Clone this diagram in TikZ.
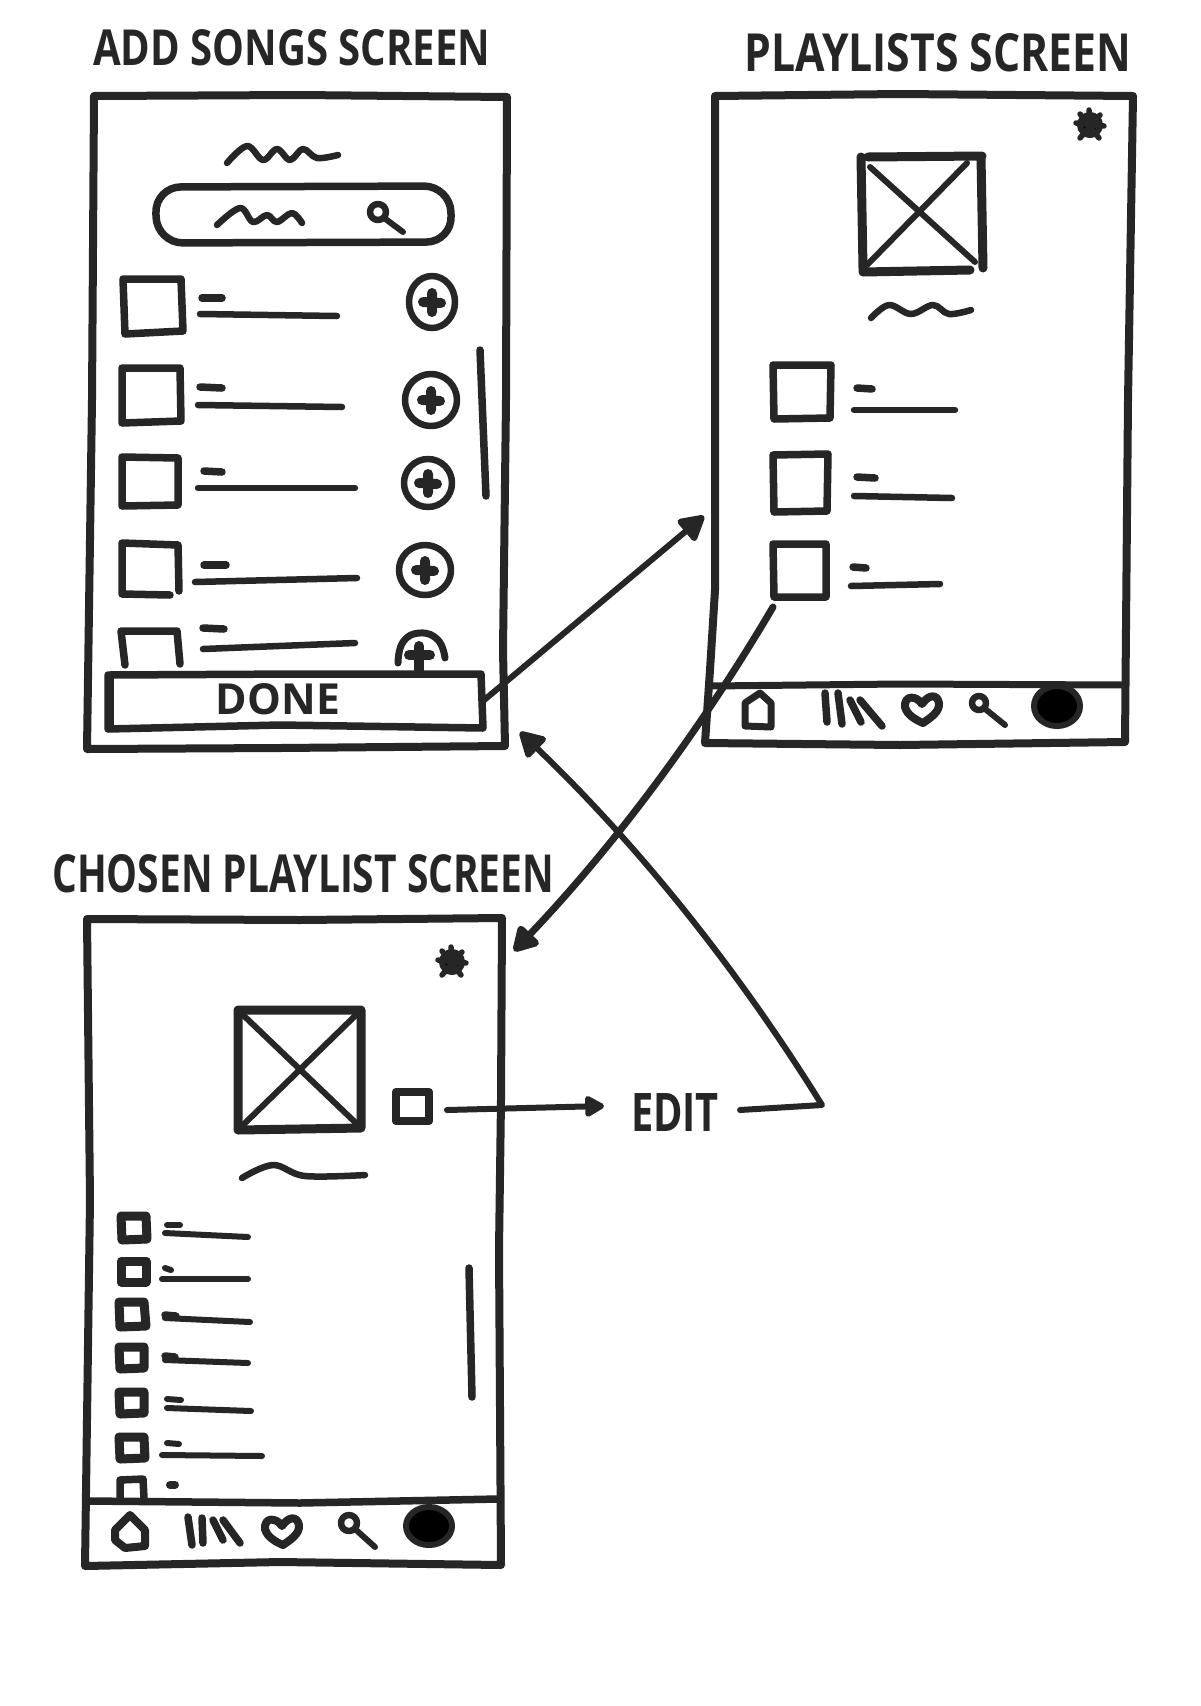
\documentclass[tikz,border=0pt]{standalone}
\usepackage{graphicx}
\usepackage{fontspec}
\setmainfont{Open Sans}
\usetikzlibrary{arrows.meta}
\definecolor{ink}{HTML}{262626}
\tikzset{
  ink/.style={draw=ink,line cap=round,line join=round,line width=6pt},
  frame/.style={ink,line width=8pt},
  box/.style={ink,line width=7.5pt},
  sbox/.style={ink,line width=9pt},
  thin/.style={ink,line width=6.5pt},
  dashmark/.style={ink,line width=7.5pt},
  bar/.style={ink,line width=7.5pt},
  conn/.style={ink,line width=6pt},
  label/.style={inner sep=0pt,text=ink,font=\bfseries},
  head/.style={-{Triangle[length=28pt,width=30pt,round]}},
  smallhead/.style={-{Triangle[length=22pt,width=23pt,round]}}
}
\newcommand{\pluscirc}[4]{% x y rx ry
  \begin{scope}[shift={(#1,#2)}]
    \draw[ink,line width=6.5pt] (0,0) circle[x radius=#3,y radius=#4];
    \draw[ink,line width=10pt] (-9,0) -- (9,1) (0,-9) -- (0,10);
  \end{scope}}
\newcommand{\starblob}[2]{%
  \begin{scope}[shift={(#1,#2)}]
    \fill[ink] (0,0) circle[radius=10];
    \draw[ink,line width=5.5pt] (-14,-2) -- (14,1) (-10,-11) -- (9,13) (10,-10) -- (-10,13) (-1,-15) -- (1,10);
  \end{scope}}
\newcommand{\heartshape}[2]{%
  \begin{scope}[shift={(#1,#2)}]
    \draw[ink,line width=8pt] (0,-4) .. controls (-6,-13) and (-18,-13) .. (-17,-1)
      .. controls (-15,7) and (-6,12) .. (1,15) .. controls (8,10) and (18,4) .. (17,-5)
      .. controls (15,-15) and (6,-13) .. cycle;
  \end{scope}}
\newcommand{\magnifier}[5]{% cx cy r hx hy
  \draw[ink,line width=6.5pt] (#1,#2) circle[radius=#3];
  \draw[ink,line width=6pt] (#1+#3*0.7,#2+#3*0.7) -- (#4,#5);}
\begin{document}
\begin{tikzpicture}[x=1pt,y=-1pt]
\useasboundingbox[fill=white] (0,0) rectangle (1200,1706);

% ---- titles
\node[label,anchor=south west] (titleA) at (93,66) {\resizebox{397pt}{36pt}{ADD SONGS SCREEN}};
\node[label,anchor=south west] (titleB) at (744,72) {\resizebox{387pt}{38pt}{PLAYLISTS SCREEN}};
\node[label,anchor=south west] (titleC) at (52,893) {\resizebox{502pt}{38pt}{CHOSEN PLAYLIST SCREEN}};

% ---- screen 1: add songs
\draw[frame] (94,96) -- (300,95) -- (507,97) -- (506,400) -- (503,650) -- (505,746) -- (280,748) -- (87,749) -- (92,400) -- cycle;
\draw[thin] plot[smooth,tension=.6] coordinates {(227,163) (247,146) (263,160) (277,149) (290,160) (303,149) (317,158) (338,155)};
\draw[box,rounded corners=26pt] (155,187) -- (450,186) -- (452,242) -- (157,243) -- cycle;
\draw[thin] plot[smooth,tension=.6] coordinates {(217,225) (240,208) (253,222) (267,215) (277,222) (292,213) (302,223)};
\magnifier{378}{212}{8}{403}{232}

\draw[box] (123,279) -- (181,279) -- (183,331) -- (125,334) -- cycle;
\draw[dashmark] (202,298) -- (222,298);
\draw[thin] (200,314) -- (337,316);
\pluscirc{432}{302}{23}{26}

\draw[box] (122,368) -- (180,368) -- (181,421) -- (122,423) -- cycle;
\draw[dashmark] (200,387) -- (222,388);
\draw[thin] (198,405) -- (342,407);
\pluscirc{431}{400}{26}{26}

\draw[box] (122,457) -- (178,458) -- (178,505) -- (122,506) -- cycle;
\draw[dashmark] (204,471) -- (222,472);
\draw[thin] (198,488) -- (355,488);
\pluscirc{428}{483}{24}{24}

\draw[box] (179,591) -- (178,545) -- (122,543) -- (122,594) -- (170,595);
\draw[dashmark] (204,565) -- (226,565);
\draw[thin] (195,582) -- (357,578);
\pluscirc{425}{570}{26}{25}

\draw[box] (125,665) -- (121,631) -- (177,631) -- (180,664);
\draw[dashmark] (203,628) -- (224,629);
\draw[thin] (203,649) -- (355,643);
\draw[ink,line width=7pt] plot[smooth,tension=.8] coordinates {(398,663) (403,642) (420,633) (438,640) (445,658)};
\draw[ink,line width=10pt] (409,655) -- (430,655) (419,646) -- (419,670);
\draw[bar] (480,350) -- (486,496);

\draw[box,line width=7.5pt] (108,675) -- (300,674) -- (481,674) -- (483,728) -- (280,725) -- (108,729) -- cycle;
\draw[ink,line width=5pt] (111,677) -- (111,727);
\node[label] (done) at (278,699) {\resizebox{124pt}{31pt}{DONE}};

% ---- screen 2: playlists
\draw[frame] (715,96) -- (900,94) -- (1133,96) -- (1128,400) -- (1125,742) -- (900,745) -- (705,743) -- (710,670) -- (715,590) -- cycle;
\draw[frame,line width=7pt] (710,686) -- (900,684) -- (1124,685);
\starblob{1090}{125}
\draw[ink,line width=9pt] (861,157) -- (863,268) -- (863,272) -- (970,270) (868,157) -- (982,156) (981,156) -- (983,268);
\draw[ink,line width=6pt] (870,167) -- (975,262) (967,163) -- (867,265);
\draw[thin] plot[smooth,tension=.6] coordinates {(871,318) (889,305) (911,314) (933,305) (949,314) (971,310)};

\draw[box] (773,365) -- (831,365) -- (830,418) -- (774,419) -- cycle;
\draw[dashmark] (857,388) -- (872,389);
\draw[thin] (854,410) -- (955,410);
\draw[box] (773,455) -- (828,454) -- (827,511) -- (774,512) -- cycle;
\draw[dashmark] (857,477) -- (875,478);
\draw[thin] (854,496) -- (952,498);
\draw[box] (773,544) -- (826,544) -- (826,597) -- (774,597) -- cycle;
\draw[dashmark] (853,567) -- (866,568);
\draw[thin] (851,586) -- (940,584);

\draw[ink,line width=7pt] (745,703) -- (760,693) -- (771,703) -- (771,727) -- (745,726) -- cycle;
\draw[ink,line width=7.5pt] (825,693) -- (827,722) (838,693) -- (842,724) (850,700) -- (861,722) (860,700) -- (882,726);
\heartshape{922}{708}
\magnifier{979}{703}{7}{1005}{725}
\fill[ink] (1057,706) circle[x radius=23,y radius=20];

% ---- screen 3: chosen playlist
\draw[frame] (87,919) -- (300,920) -- (502,918) -- (501,1100) -- (499,1250) -- (501,1565) -- (280,1562) -- (85,1566) -- (90,1200) -- cycle;
\draw[frame,line width=7.5pt] (88,1501) -- (300,1503) -- (498,1499);
\starblob{452}{962}
\draw[ink,line width=9pt] (238,1010) -- (361,1010) -- (361,1128) -- (238,1130) -- cycle;
\draw[ink,line width=6pt] (241,1013) -- (358,1125) (358,1013) -- (242,1126);
\draw[sbox,line width=8.5pt] (396,1092) -- (429,1092) -- (429,1121) -- (396,1121) -- cycle;
\draw[thin] plot[smooth,tension=.6] coordinates {(242,1178) (273,1165) (305,1176) (365,1175)};

\draw[sbox] (121,1216) -- (146,1216) -- (147,1239) -- (122,1240) -- cycle;
\draw[dashmark,line width=6pt] (167,1225) -- (180,1225);
\draw[thin,line width=6pt] (165,1233) -- (248,1237);
\draw[sbox] (121,1261) -- (146,1261) -- (146,1282) -- (121,1282) -- cycle;
\draw[dashmark,line width=6pt] (165,1268) -- (171,1270);
\draw[thin,line width=6pt] (162,1279) -- (248,1279);
\draw[sbox] (119,1302) -- (144,1302) -- (146,1326) -- (120,1327) -- cycle;
\draw[dashmark,line width=7.5pt] (165,1315) -- (176,1316);
\draw[thin,line width=6pt] (165,1318) -- (250,1322);
\draw[sbox] (119,1347) -- (144,1347) -- (144,1368) -- (120,1369) -- cycle;
\draw[dashmark,line width=7.5pt] (165,1356) -- (175,1357);
\draw[thin,line width=6pt] (165,1360) -- (248,1363);
\draw[sbox] (119,1392) -- (144,1392) -- (144,1413) -- (120,1414) -- cycle;
\draw[dashmark,line width=6pt] (167,1399) -- (181,1400);
\draw[thin,line width=6pt] (167,1408) -- (251,1411);
\draw[sbox] (119,1437) -- (144,1437) -- (145,1458) -- (120,1459) -- cycle;
\draw[dashmark,line width=6pt] (167,1443) -- (179,1444);
\draw[thin,line width=6pt] (162,1455) -- (262,1456);
\draw[box] (120,1498) -- (120,1480) -- (143,1479) -- (144,1498);
\draw[dashmark,line width=8pt] (170,1485) -- (175,1485);
\draw[bar] (469,1268) -- (472,1397);

\draw[ink,line width=8pt] (115,1530) -- (130,1515) -- (145,1530) -- (145,1546) -- (125,1548) -- (115,1540) -- cycle;
\draw[ink,line width=7.5pt] (188,1517) -- (192,1545) (202,1518) -- (203,1543) (213,1520) -- (223,1540) (223,1520) -- (240,1543);
\heartshape{282}{1530}
\magnifier{349}{1523}{8}{375}{1547}
\fill[ink] (429,1526) circle[x radius=23,y radius=19];

\node[label] (edit) at (675,1112) {\resizebox{88pt}{38pt}{EDIT}};

% ---- connectors
\coordinate (doneR) at (483,701);
\coordinate (playL) at (704,516);
\coordinate (rowEnd) at (773,607);
\coordinate (chosenTR) at (514,951);
\coordinate (smallR) at (447,1110);
\coordinate (editL) at (604,1106);
\coordinate (editR) at (740,1110);
\coordinate (bend) at (822,1105);
\coordinate (addBR) at (520,732);
\draw[conn,head] (doneR) -- (playL);
\draw[conn,line width=7pt,head] (rowEnd) .. controls (700,731) and (614,846) .. (chosenTR);
\draw[conn,smallhead] (smallR) -- (editL);
\draw[conn,head] (editR) -- (bend) .. controls (737,968) and (637,844) .. (addBR);
\end{tikzpicture}
\end{document}
